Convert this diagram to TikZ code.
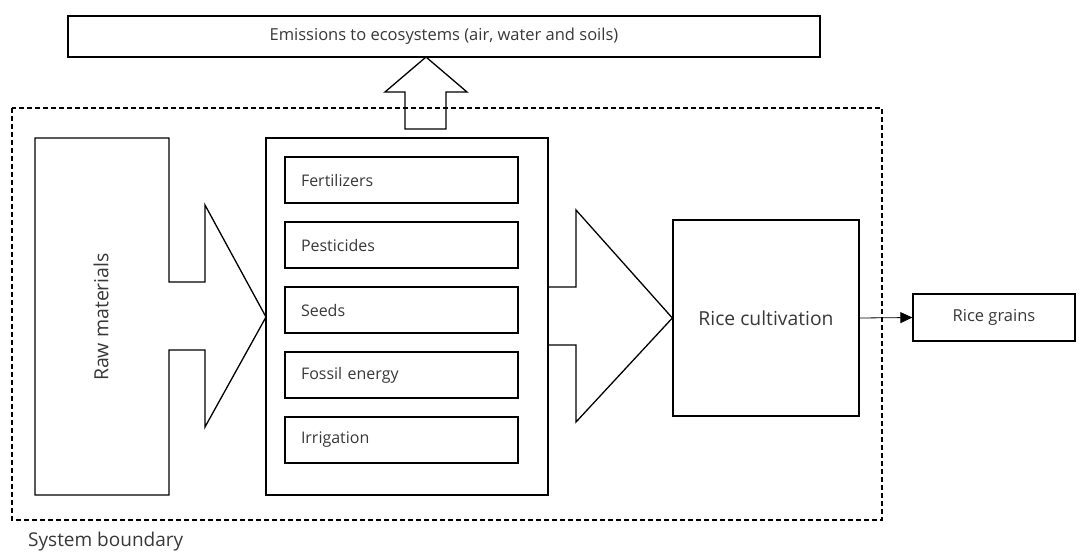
\documentclass[tikz,border=0pt]{standalone}
\usepackage{fontspec}
\setmainfont{Open Sans}
\usetikzlibrary{arrows.meta}

\begin{document}
\begin{tikzpicture}[x=1pt,y=-1pt,
  box/.style={draw,line width=1.3pt,inner sep=0pt,text=black!78,
    font=\fontsize{16.5}{19}\selectfont},
  item/.style={box,minimum width=233pt,minimum height=46pt,
    text width=201pt,align=left,inner xsep=16pt,font=\fontsize{16}{19}\selectfont},
  fat/.style={draw,line width=1.3pt,line join=miter}]
  \useasboundingbox (0,0) rectangle (1083,552);
  % emissions leaving the system
  \node[box,minimum width=752pt,minimum height=41pt] (emis) at (444,36.5)
    {Emissions to ecosystems (air, water and soils)};
  \coordinate (up) at (426,57);
  \draw[fat] (up) -- (467,92) -- (446,92) -- (446,129) -- (405,129)
    -- (405,92) -- (385,92) -- cycle;
  % raw materials arrow
  \draw[fat] (35,138) -- (169,138) -- (169,282) -- (205,282) -- (205,205)
    -- (266,317) -- (205,427) -- (205,350) -- (169,350) -- (169,495)
    -- (35,495) -- cycle;
  \node[text=black!78,font=\fontsize{19.5}{22}\selectfont,rotate=90] (raw)
    at (101,317) {Raw materials};
  % inputs
  \node[box,minimum width=282pt,minimum height=357pt] (inputs) at (407,316.5) {};
  \foreach \y/\n/\t in {180/fert/Fertilizers,245/pest/Pesticides,310/seed/Seeds,
      375/foss/Fossil energy,440/irri/Irrigation}
    \node[item] (\n) at (401.5,\y) {\t};
  % rice cultivation
  \node[box,minimum width=186pt,minimum height=196pt,
    font=\fontsize{19.3}{22}\selectfont] (rice) at (766,318) {Rice cultivation};
  \draw[fat] (inputs.east |- 0,287) -- (576,287) -- (576,210) -- (rice.west)
    -- (576,422) -- (576,345) -- (inputs.east |- 0,345);
  \node[box,minimum width=162pt,minimum height=47pt] (grains) at (994,317.5)
    {Rice grains};
  \draw[line width=0.8pt,-{Triangle[length=12pt,width=11pt]}] (rice.east) -- (grains.west);
  % system boundary
  \draw[line width=1.2pt,dash pattern=on 5pt off 3pt] (12,108) rectangle (882,520);
  \node[anchor=west,text=black!78,font=\fontsize{19}{22}\selectfont,inner sep=0pt]
    (sysb) at (28,542) {System boundary};
\end{tikzpicture}
\end{document}
